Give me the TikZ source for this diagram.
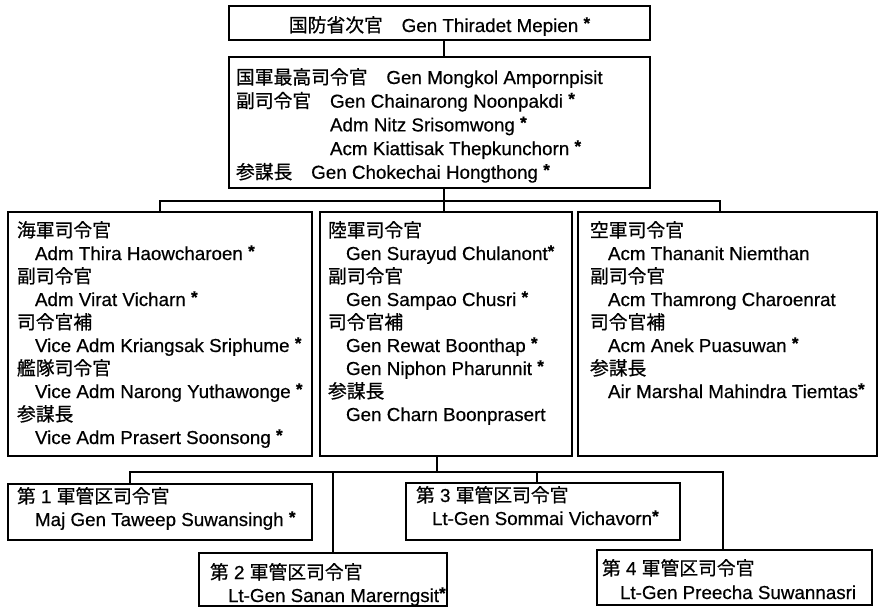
\documentclass[tikz,border=0pt]{standalone}
\usepackage{fontspec}
\setmainfont[FakeBold=0.5]{Liberation Sans}
\newfontfamily\cjk[FakeBold=0.6]{Noto Sans CJK JP}
\newcommand\J[1]{{\cjk #1}}
\newcommand\st{\raisebox{3pt}{\fontsize{17pt}{17pt}\selectfont\bfseries *}}
\newcommand\ind{\hspace*{18pt}}
\newcommand\row[1]{\mbox{#1}}
% width, height, left margin, first baseline, baselineskip, lines
\newcommand\bxt[6]{\parbox[c][#2][t]{#1}{\fontsize{18.8pt}{#5}\selectfont\raggedright\leftskip=#3\relax\rule{0pt}{#4}#6\par}}
\begin{document}
\begin{tikzpicture}[x=1pt,y=-1pt,
  box/.style={draw, line width=2.5pt, inner sep=0pt, outer sep=0pt, anchor=north west},
  conn/.style={line width=1.7pt}]
\fill[white] (0,0) rectangle (880,610);
\useasboundingbox (0,0) rectangle (880,610);

% top boxes
\node[box] (mod) at (229,6) {\parbox[c][34pt][t]{421pt}{\fontsize{18.8pt}{23pt}\selectfont\centering\rule{0pt}{26pt}\J{国防省次官}\hspace{1em}Gen Thiradet Mepien \st\par}};

\node[box] (jso) at (229,57) {\bxt{421pt}{131pt}{7pt}{27pt}{23.7pt}{%
\row{\J{国軍最高司令官}\hspace{1em}Gen Mongkol Ampornpisit}\\
\row{\J{副司令官}\hspace{1em}Gen Chainarong Noonpakdi \st}\\
\row{\hspace*{5em}Adm Nitz Srisomwong \st}\\
\row{\hspace*{5em}Acm Kiattisak Thepkunchorn \st}\\
\row{\J{参謀長}\hspace{1em}Gen Chokechai Hongthong \st}}};

% service boxes
\node[box] (navy) at (8,212) {\bxt{304pt}{244pt}{9pt}{25pt}{23pt}{%
\row{\J{海軍司令官}}\\
\row{\ind Adm Thira Haowcharoen \st}\\
\row{\J{副司令官}}\\
\row{\ind Adm Virat Vicharn \st}\\
\row{\J{司令官補}}\\
\row{\ind Vice Adm Kriangsak Sriphume \st}\\
\row{\J{艦隊司令官}}\\
\row{\ind Vice Adm Narong Yuthawonge \st}\\
\row{\J{参謀長}}\\
\row{\ind Vice Adm Prasert Soonsong \st}}};

\node[box] (army) at (320,212) {\bxt{252pt}{244pt}{8pt}{25pt}{23pt}{%
\row{\J{陸軍司令官}}\\
\row{\ind Gen Surayud Chulanont\st}\\
\row{\J{副司令官}}\\
\row{\ind Gen Sampao Chusri \st}\\
\row{\J{司令官補}}\\
\row{\ind Gen Rewat Boonthap \st}\\
\row{\ind Gen Niphon Pharunnit \st}\\
\row{\J{参謀長}}\\
\row{\ind Gen Charn Boonprasert}}};

\node[box] (air) at (578,212) {\bxt{299pt}{244pt}{12pt}{25pt}{23pt}{%
\row{\J{空軍司令官}}\\
\row{\ind Acm Thananit Niemthan}\\
\row{\J{副司令官}}\\
\row{\ind Acm Thamrong Charoenrat}\\
\row{\J{司令官補}}\\
\row{\ind Acm Anek Puasuwan \st}\\
\row{\J{参謀長}}\\
\row{\ind Air Marshal Mahindra Tiemtas\st}}};

% military district boxes
\node[box] (d1) at (8,484) {\bxt{304pt}{56pt}{9pt}{19pt}{23pt}{%
\row{\J{第} 1 \J{軍管区司令官}}\\
\row{\ind Maj Gen Taweep Suwansingh \st}}};

\node[box] (d2) at (199,553) {\bxt{248pt}{53pt}{11pt}{26pt}{23pt}{%
\row{\J{第} 2 \J{軍管区司令官}}\\
\row{\ind Lt-Gen Sanan Marerngsit\st}}};

\node[box] (d3) at (406,483) {\bxt{274pt}{57pt}{10pt}{19pt}{23pt}{%
\row{\J{第} 3 \J{軍管区司令官}}\\
\row{\hspace*{16pt}Lt-Gen Sommai Vichavorn\st}}};

\node[box] (d4) at (597,550) {\bxt{275pt}{55pt}{5pt}{25pt}{24pt}{%
\row{\J{第} 4 \J{軍管区司令官}}\\
\row{\ind Lt-Gen Preecha Suwannasri}}};

% connector points
\coordinate (busA) at (0,201);
\coordinate (busB) at (0,472);
\coordinate (modB) at ([xshift=215pt]mod.south west);
\coordinate (jsoT) at ([xshift=215pt]jso.north west);
\coordinate (jsoB) at ([xshift=215pt]jso.south west);
\coordinate (armyT) at ([xshift=124pt]army.north west);
\coordinate (airT) at ([xshift=142pt]air.north west);
\coordinate (armyB) at ([xshift=117pt]army.south west);
\coordinate (d1T) at ([xshift=122pt]d1.north west);
\coordinate (d2T) at ([xshift=134pt]d2.north west);
\coordinate (d3T) at ([xshift=131pt]d3.north west);
\coordinate (d4T) at ([xshift=126pt]d4.north west);

% connectors
\draw[conn] (modB) -- (jsoT);
\draw[conn] (jsoB) -- (armyT);
\draw[conn] (navy.north) -- (navy.north |- busA) -- (airT |- busA) -- (airT);
\draw[conn] (armyB) -- (armyB |- busB);
\draw[conn] (d1T) -- (d1T |- busB) -- (d4T |- busB) -- (d4T);
\draw[conn] (d2T) -- (d2T |- busB);
\draw[conn] (d3T) -- (d3T |- busB);
\end{tikzpicture}
\end{document}
